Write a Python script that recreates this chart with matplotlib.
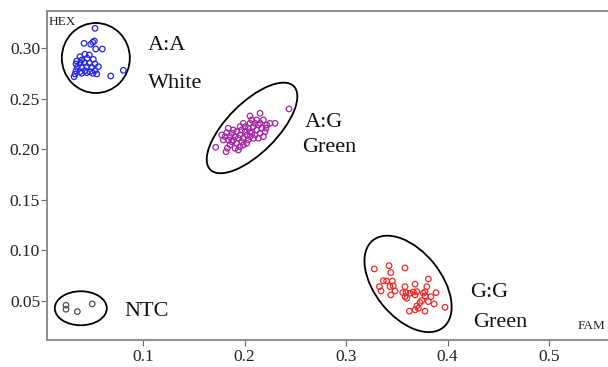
import numpy as np
import matplotlib
matplotlib.use("Agg")
import matplotlib.pyplot as plt
from matplotlib.patches import Ellipse
from matplotlib.transforms import ScaledTranslation

# allele discrimination plot: FAM (x) vs HEX (y)
aa_fam = [0.0527, 0.0419, 0.0485, 0.0505, 0.0520, 0.0534, 0.0599, 0.0806, 0.0682,
          0.0428, 0.0471, 0.0379, 0.0451, 0.0347, 0.0396, 0.0510, 0.0340, 0.0379,
          0.0422, 0.0471, 0.0527, 0.0560, 0.0352, 0.0396, 0.0446, 0.0495, 0.0340,
          0.0379, 0.0428, 0.0477, 0.0527, 0.0330, 0.0396, 0.0446, 0.0505, 0.0321, 0.0544]
aa_hex = [0.3195, 0.3046, 0.3037, 0.3056, 0.3069, 0.2990, 0.2990, 0.2779, 0.2723,
          0.2938, 0.2931, 0.2914, 0.2898, 0.2871, 0.2881, 0.2888, 0.2842, 0.2849,
          0.2855, 0.2849, 0.2842, 0.2815, 0.2809, 0.2809, 0.2815, 0.2809, 0.2775,
          0.2766, 0.2775, 0.2766, 0.2775, 0.2743, 0.2750, 0.2756, 0.2750, 0.2716, 0.2743]

ag_fam = [0.1716, 0.1818, 0.1831, 0.1857, 0.1874, 0.1840, 0.1808, 0.1775, 0.1825, 0.1874,
          0.1907, 0.1889, 0.1923, 0.1956, 0.1939, 0.1972, 0.1988, 0.1956, 0.1923, 0.1972,
          0.2005, 0.2022, 0.2037, 0.2054, 0.2071, 0.2037, 0.2086, 0.2120, 0.2104, 0.2137,
          0.2153, 0.2169, 0.2137, 0.2104, 0.2054, 0.2071, 0.2054, 0.2153, 0.2186, 0.2219,
          0.2251, 0.2301, 0.2202, 0.2005, 0.1988, 0.1889, 0.1857, 0.1939, 0.2022, 0.1907,
          0.2086, 0.2186, 0.2212, 0.2120, 0.2153, 0.2054, 0.1956, 0.1791, 0.1840, 0.1988, 0.2438]
ag_hex = [0.2018, 0.1974, 0.2008, 0.2041, 0.2073, 0.2090, 0.2123, 0.2139, 0.2162, 0.2156,
          0.2123, 0.2090, 0.2057, 0.2024, 0.1991, 0.2073, 0.2107, 0.2139, 0.2172, 0.2189,
          0.2172, 0.2139, 0.2090, 0.2123, 0.2156, 0.2206, 0.2222, 0.2189, 0.2139, 0.2107,
          0.2156, 0.2206, 0.2238, 0.2255, 0.2255, 0.2288, 0.2327, 0.2354, 0.2288, 0.2238,
          0.2255, 0.2255, 0.2172, 0.2222, 0.2041, 0.2189, 0.2123, 0.2107, 0.2057, 0.2008,
          0.2107, 0.2123, 0.2206, 0.2288, 0.2255, 0.2172, 0.2222, 0.2090, 0.2206, 0.2255, 0.2397]

gg_fam = [0.3279, 0.3423, 0.3581, 0.3441, 0.3368, 0.3400, 0.3456, 0.3329, 0.3345, 0.3433,
          0.3466, 0.3483, 0.3441, 0.3581, 0.3680, 0.3811, 0.3796, 0.3558, 0.3591, 0.3630,
          0.3663, 0.3697, 0.3778, 0.3887, 0.3581, 0.3599, 0.3778, 0.3835, 0.3746, 0.3811,
          0.3868, 0.3729, 0.3697, 0.3713, 0.3680, 0.3624, 0.3778, 0.3975, 0.3762, 0.3680]
gg_hex = [0.0814, 0.0847, 0.0824, 0.0778, 0.0698, 0.0695, 0.0695, 0.0639, 0.0596, 0.0639,
          0.0646, 0.0596, 0.0557, 0.0639, 0.0663, 0.0715, 0.0639, 0.0580, 0.0580, 0.0574,
          0.0587, 0.0590, 0.0587, 0.0580, 0.0540, 0.0524, 0.0547, 0.0540, 0.0501, 0.0491,
          0.0468, 0.0481, 0.0448, 0.0425, 0.0409, 0.0396, 0.0396, 0.0435, 0.0574, 0.0557]

ntc_fam = [0.0241, 0.0241, 0.0353, 0.0500]
ntc_hex = [0.0455, 0.0415, 0.0392, 0.0468]

# cluster ellipses: centre (data), width/height in pixels, angle
rings = [
    ((0.0535, 0.2901), 68, 70, 0),
    ((0.2074, 0.2209), 118, 50, 45),
    ((0.3611, 0.0666), 112, 66, -51),
    ((0.0387, 0.0425), 52, 34, 0),
]

labels = [
    (0.1049, 0.2980, "A:A"), (0.1049, 0.2604, "White"),
    (0.2596, 0.2219, "A:G"), (0.2567, 0.1971, "Green"),
    (0.4221, 0.0537, "G:G"), (0.4252, 0.0240, "Green"),
    (0.0813, 0.0349, "NTC"),
]

plt.rcParams['font.family'] = ['Liberation Serif', 'DejaVu Serif']

fig = plt.figure(figsize=(6.08, 3.67), dpi=100)
ax = fig.add_axes([47/608, 27/367, 561/608, 329.3/367])
ax.set_xlim(0.0054, 0.5581)
ax.set_ylim(0.0111, 0.3369)

mk = dict(s=16, facecolors='none', linewidths=0.9, zorder=3)
ax.scatter(aa_fam, aa_hex, edgecolors='#2424e8', **mk)
ax.scatter(ag_fam, ag_hex, edgecolors='#a526a5', **mk)
ax.scatter(gg_fam, gg_hex, edgecolors='#f02828', **mk)
ax.scatter(ntc_fam, ntc_hex, edgecolors='#505050', **mk)

for (cx, cy), w, h, ang in rings:
    tr = fig.dpi_scale_trans + ScaledTranslation(cx, cy, ax.transData)
    ax.add_patch(Ellipse((0, 0), w/100, h/100, angle=ang, transform=tr,
                         fill=False, edgecolor='black', linewidth=1.3, zorder=2))

for x, y, t in labels:
    ax.text(x, y, t, fontsize=16, ha='left', va='baseline', color='#111111')

ax.text(0.002, 0.985, "HEX", transform=ax.transAxes, fontsize=9.5,
        ha='left', va='top', color='#222222')
ax.text(0.995, 0.025, "FAM", transform=ax.transAxes, fontsize=9.5,
        ha='right', va='bottom', color='#222222')

ax.set_xticks([0.1, 0.2, 0.3, 0.4, 0.5])
ax.set_xticklabels(['0.1', '0.2', '0.3', '0.4', '0.5'])
ax.set_yticks([0.05, 0.10, 0.15, 0.20, 0.25, 0.30])
ax.set_yticklabels(['0.05', '0.10', '0.15', '0.20', '0.25', '0.30'])
ax.tick_params(length=4, width=0.8, color='#666666', labelsize=12.5,
               labelcolor='#222222', pad=1)
ax.tick_params(axis='x', pad=2.5)

ax.spines['right'].set_visible(False)
for s in ['left', 'bottom', 'top']:
    ax.spines[s].set_color('#8c8c8c')
    ax.spines[s].set_linewidth(1.4)

fig.savefig('out.png', dpi=100)
